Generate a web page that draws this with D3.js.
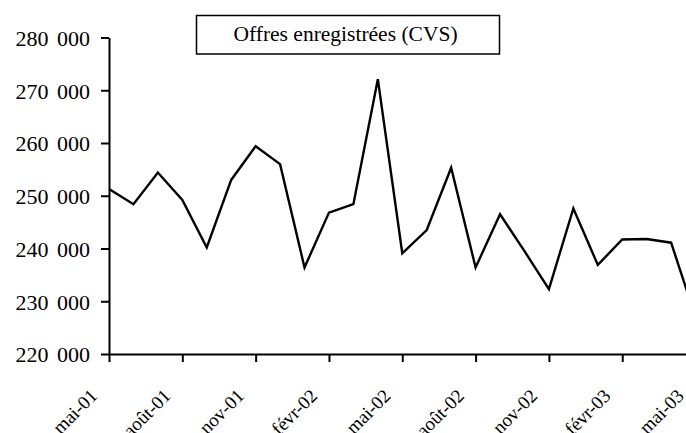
<!DOCTYPE html>
<html lang="fr">
<head>
  <meta charset="UTF-8">
  <title>Offres enregistrées (CVS)</title>
  <script src="https://cdn.jsdelivr.net/npm/d3@7"></script>
  <style>
    html, body {
      margin: 0;
      background-color: #ffffff;
      overflow: hidden;
    }
  </style>
</head>
<body>
  <div id="chart"></div>

  <script type="text/javascript">
    // one point per month, mai-01 -> mai-03
    const months = ['mai-01', 'juin-01', 'juil-01', 'août-01', 'sept-01', 'oct-01', 'nov-01', 'déc-01',
      'janv-02', 'févr-02', 'mars-02', 'avr-02', 'mai-02', 'juin-02', 'juil-02', 'août-02', 'sept-02',
      'oct-02', 'nov-02', 'déc-02', 'janv-03', 'févr-03', 'mars-03', 'avr-03', 'mai-03']

    const offres = [251300, 248400, 254400, 249200, 240200, 253000, 259400, 256000,
      236400, 246800, 248400, 272100, 239100, 243500, 255300, 236400, 246500,
      239500, 232300, 247600, 236900, 241700, 241800, 241100, 227000]

    const xTickLabels = ['mai-01', 'août-01', 'nov-01', 'févr-02', 'mai-02', 'août-02', 'nov-02', 'févr-03', 'mai-03']
    const yTicks = [220000, 230000, 240000, 250000, 260000, 270000, 280000]

    const seriesName = 'Offres enregistrées (CVS)'

    const width = 686
    const height = 433
    const plotLeft = 109
    const plotBottom = 354
    const plotTop = 37.5
    const monthStep = 24.44
    const serif = '"Liberation Serif", "Times New Roman", Tinos, "DejaVu Serif", serif'

    const svg = d3.select('#chart').append('svg')
      .attr('width', width)
      .attr('height', height)
      .attr('font-family', serif)

    svg.append('rect')
      .attr('width', width)
      .attr('height', height)
      .attr('fill', '#ffffff')

    const x = d3.scalePoint()
      .domain(months)
      .range([plotLeft, plotLeft + monthStep * (months.length - 1)])

    const y = d3.scaleLinear()
      .domain([220000, 280000])
      .range([plotBottom, plotTop])

    const line = d3.line()
      .x((d, i) => x(months[i]))
      .y(d => y(d))

    svg.append('path')
      .datum(offres)
      .attr('d', line)
      .attr('fill', 'none')
      .attr('stroke', '#000000')
      .attr('stroke-width', 2.4)
      .attr('stroke-linejoin', 'miter')

    const fmt = d => d3.format(',')(d).replace(',', ' ')

    const yAxis = svg.append('g')
      .attr('transform', `translate(${plotLeft},0)`)
      .call(d3.axisLeft(y).tickValues(yTicks).tickSize(8).tickSizeOuter(0).tickPadding(11).tickFormat(fmt))
      .attr('font-family', serif)
      .attr('font-size', 22)

    yAxis.selectAll('text')
      .attr('fill', '#000000')
      .attr('dy', '0.36em')
      .style('word-spacing', '3px')

    const xAxis = svg.append('g')
      .attr('transform', `translate(0,${plotBottom})`)
      .call(d3.axisBottom(x).tickValues(xTickLabels).tickSize(8).tickSizeOuter(0))
      .attr('font-family', serif)
      .attr('font-size', 19)

    // labels end just left of their tick, slanted 45°
    xAxis.selectAll('text')
      .attr('fill', '#000000')
      .style('text-anchor', 'end')
      .attr('y', 0)
      .attr('dy', 0)
      .attr('transform', 'translate(-11,43) rotate(-45)')

    svg.selectAll('.domain, .tick line')
      .attr('stroke', '#000000')
      .attr('stroke-width', 2)

    // series label box
    const box = svg.append('g')
    box.append('rect')
      .attr('x', 196.5)
      .attr('y', 15.5)
      .attr('width', 303)
      .attr('height', 38.5)
      .attr('fill', '#ffffff')
      .attr('stroke', '#000000')
      .attr('stroke-width', 1.5)
    box.append('text')
      .attr('x', 345.5)
      .attr('y', 40.5)
      .attr('text-anchor', 'middle')
      .attr('font-size', 21.5)
      .text(seriesName)
  </script>
</body>
</html>
